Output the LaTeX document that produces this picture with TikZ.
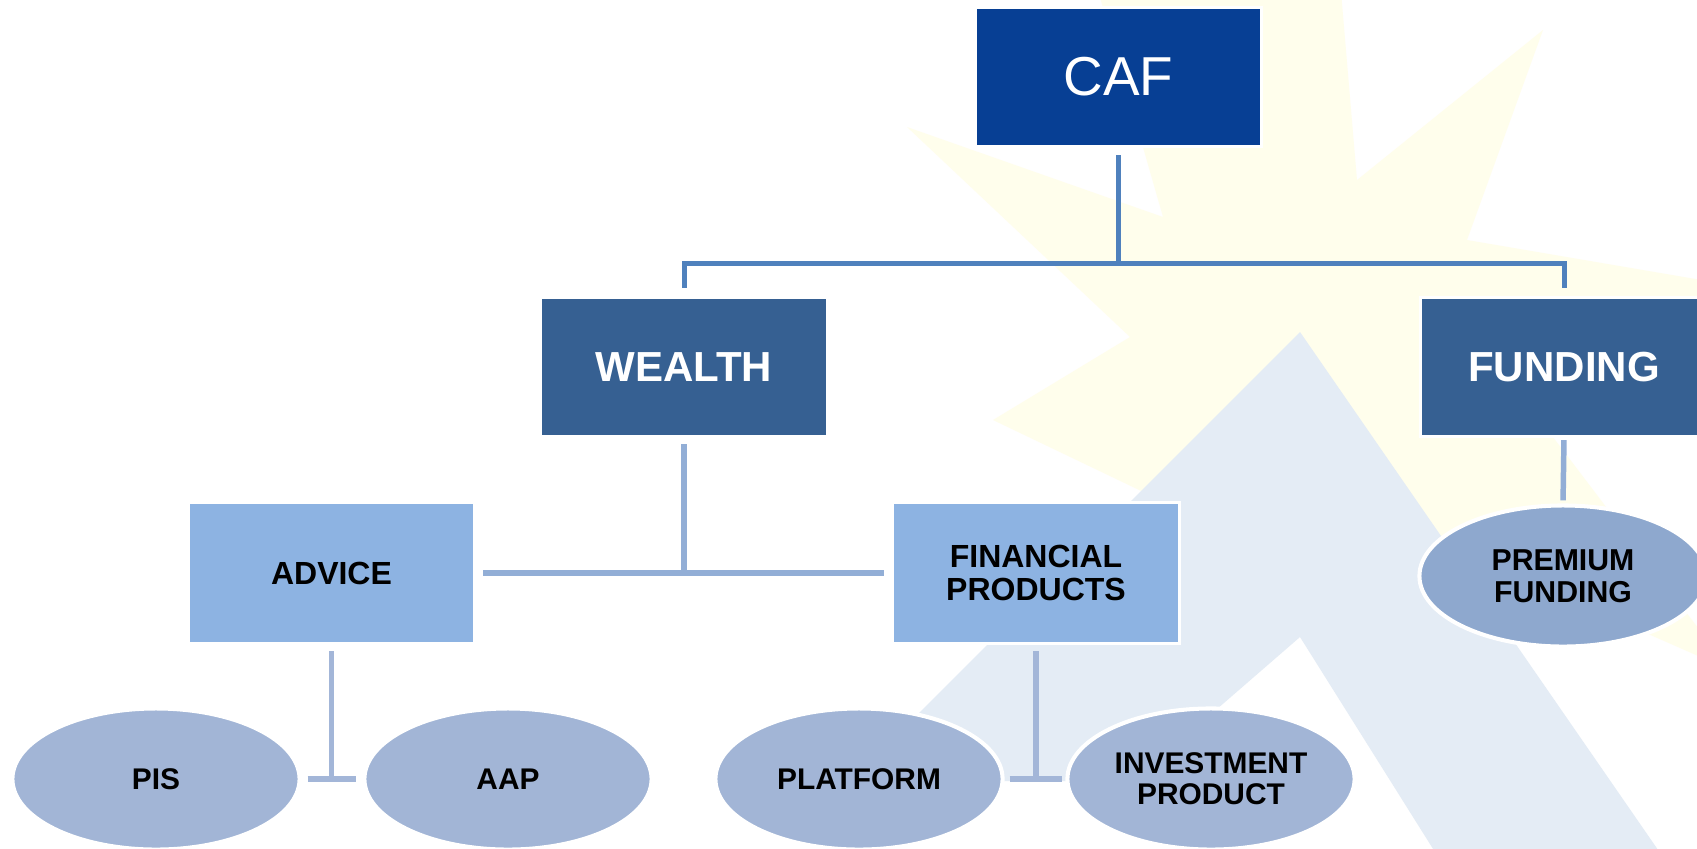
\documentclass[tikz,border=0pt]{standalone}
\usepackage{fontspec}
\setmainfont{Liberation Sans}
\usetikzlibrary{shapes.geometric}
\definecolor{cafblue}{HTML}{073F94}
\definecolor{lvlone}{HTML}{366092}
\definecolor{lvltwo}{HTML}{8DB3E2}
\definecolor{premcol}{HTML}{8EA8CE}
\definecolor{ellcol}{HTML}{A2B5D6}
\definecolor{conone}{HTML}{4F81BD}
\definecolor{contwo}{HTML}{92AED6}
\definecolor{conthree}{HTML}{A3B6D8}
\definecolor{starcol}{HTML}{FFFEEC}
\definecolor{acol}{HTML}{E4ECF5}
\begin{document}
\begin{tikzpicture}[x=0.01cm,y=-0.01cm,
  boxbase/.style={rectangle, draw=white, line width=0.85pt, minimum width=2.86cm, minimum height=1.39cm, inner sep=0pt, align=center},
  topbox/.style={boxbase, fill=cafblue, text=white, font=\fontsize{15.6}{18}\selectfont},
  midbox/.style={boxbase, fill=lvlone, text=white, font=\bfseries\fontsize{11.95}{14}\selectfont},
  lowbox/.style={boxbase, fill=lvltwo, text=black, minimum height=1.41cm, font=\bfseries\fontsize{9.1}{9.5}\selectfont},
  ovalbase/.style={ellipse, draw=white, line width=1.15pt, minimum width=2.87cm, minimum height=1.41cm, inner sep=0pt, align=center, text=black, font=\bfseries\fontsize{8.5}{8.8}\selectfont},
  oval/.style={ovalbase, fill=ellcol},
  premoval/.style={ovalbase, fill=premcol, font=\bfseries\fontsize{8.6}{9.1}\selectfont},
  linkone/.style={draw=conone, line width=1.42pt},
  linktwo/.style={draw=contwo, line width=1.56pt},
  linkthree/.style={draw=conthree, line width=1.56pt},
]
\useasboundingbox (0,0) rectangle (1697,848);
\clip (0,0) rectangle (1697,848);
\fill[white] (0,0) rectangle (1697,848);
% background star
\fill[starcol] (907,127) -- (1163,217) -- (1095,-20) -- (1340,-20) -- (1357,180)
  -- (1543,30) -- (1467,240) -- (1760,290) -- (1540,420) -- (1730,670)
  -- (1480,560) -- (1300,620) -- (1160,500) -- (993,420) -- (1130,337) -- cycle;
% background A
\fill[acol] (1300,332) -- (851,781) -- (1134,781) -- (1300,637) -- (1440,860) -- (1665,860) -- cycle;

% nodes
\node[topbox] (caf) at (1118.5,77) {CAF};
\node[midbox] (wealth) at (684,367) {WEALTH};
\node[midbox] (funding) at (1564,367) {FUNDING};
\node[lowbox] (advice) at (331.5,573) {ADVICE};
\node[lowbox] (fin) at (1036,573) {FINANCIAL\\PRODUCTS};
\node[premoval] (prem) at (1563,576) {PREMIUM\\FUNDING};
\node[oval] (pis) at (156,779) {PIS};
\node[oval] (aap) at (508,779) {AAP};
\node[oval] (plat) at (859,779) {PLATFORM};
\node[oval] (inv) at (1211,779) {INVESTMENT\\PRODUCT};

% connectors
\coordinate (hub) at (1118.5,263);
\draw[linkone, shorten <=0.07cm] (caf.south) -- (hub);
\draw[linkone, shorten <=0.08cm, shorten >=0.08cm] (wealth.north) -- (wealth.north |- hub) -- (funding.north |- hub) -- (funding.north);
\draw[linktwo, shorten <=0.07cm, shorten >=0.07cm] (advice.east) -- (fin.west);
\draw[linktwo, shorten <=0.06cm] (wealth.south) -- (wealth.south |- advice.east);
\draw[linktwo, shorten <=0.02cm, shorten >=0.03cm] (funding.south) -- (prem.north);
\draw[linkthree, shorten <=0.06cm] (advice.south) -- (advice.south |- pis.east);
\draw[linkthree, shorten <=0.06cm, shorten >=0.06cm] (pis.east) -- (aap.west);
\draw[linkthree, shorten <=0.06cm] (fin.south) -- (fin.south |- plat.east);
\draw[linkthree, shorten <=0.05cm, shorten >=0.03cm] (plat.east) -- (inv.west);
\end{tikzpicture}
\end{document}
